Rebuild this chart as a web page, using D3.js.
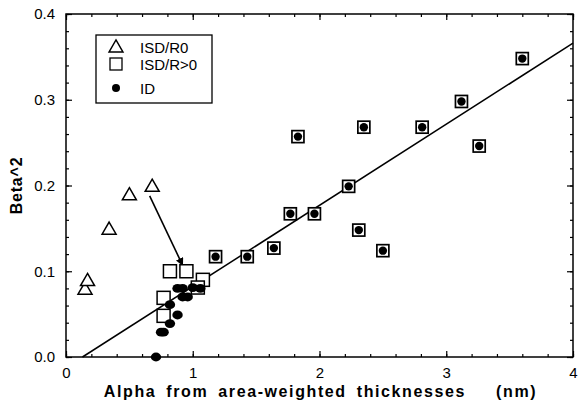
<!DOCTYPE html>
<html>
<head>
  <meta charset="utf-8">
  <script src="https://d3js.org/d3.v7.min.js"></script>
  <style>
    body { margin: 0; background: #fff; }
    text { font-family: "Liberation Sans", Arial, sans-serif; fill: #000; }
  </style>
</head>
<body>
<script>
  // ISD/R0 (open triangles)
  var triX = [0.15, 0.17, 0.34, 0.50, 0.68];
  var triY = [0.078, 0.088, 0.148, 0.188, 0.198];

  // ISD/R>0 open squares in the low cluster
  var sqX = [0.82, 0.95, 1.08, 0.77, 0.77, 1.04];
  var sqY = [0.100, 0.100, 0.090, 0.069, 0.048, 0.081];

  // ID filled dots in the low cluster
  var idX = [0.88, 0.92, 1.00, 1.06, 0.96, 0.92, 0.82, 0.88, 0.82, 0.77, 0.75, 0.71];
  var idY = [0.080, 0.080, 0.081, 0.080, 0.070, 0.070, 0.061, 0.049, 0.039, 0.029, 0.029, 0.000];

  // points where square and dot coincide
  var bothX = [1.18, 1.43, 1.64, 1.77, 1.96, 1.83, 2.23, 2.31, 2.35, 2.50, 2.81, 3.12, 3.26, 3.60];
  var bothY = [0.117, 0.117, 0.127, 0.167, 0.167, 0.257, 0.199, 0.148, 0.268, 0.124, 0.268, 0.298, 0.246, 0.348];

  // fitted line and the arrow
  var fitX = [0.13, 4.0];
  var fitY = [0.0, 0.366];
  var arrowX = [0.66, 0.92];
  var arrowY = [0.188, 0.107];

  var xTicks = [0, 1, 2, 3, 4];
  var yTicks = [0.0, 0.1, 0.2, 0.3, 0.4];
  var legendNames = ["ISD/R0", "ISD/R>0", "ID"];

  var width = 579, height = 407;
  var pL = 66, pR = 573, pT = 14, pB = 357;

  var svg = d3.select("body").append("svg")
      .attr("width", width)
      .attr("height", height);

  var x = d3.scaleLinear().domain([0, 4]).range([pL, pR]);
  var y = d3.scaleLinear().domain([0, 0.4]).range([pB, pT]);

  var minorX = d3.range(0, 4.001, 0.2), minorY = d3.range(0, 0.4001, 0.02);

  function styleAxis(g) {
    g.select(".domain").remove();
    g.selectAll("line").attr("stroke", "#000").attr("stroke-width", 1.2);
    g.selectAll("text").style("font-size", "15px").style("font-family", "Liberation Sans, Arial, sans-serif");
  }

  // minor ticks all sides
  svg.append("g").attr("transform", "translate(0," + pB + ")")
    .call(d3.axisBottom(x).tickValues(minorX).tickSize(-3).tickFormat("")).call(styleAxis);
  svg.append("g").attr("transform", "translate(0," + pT + ")")
    .call(d3.axisTop(x).tickValues(minorX).tickSize(-3).tickFormat("")).call(styleAxis);
  svg.append("g").attr("transform", "translate(" + pL + ",0)")
    .call(d3.axisLeft(y).tickValues(minorY).tickSize(-3).tickFormat("")).call(styleAxis);
  svg.append("g").attr("transform", "translate(" + pR + ",0)")
    .call(d3.axisRight(y).tickValues(minorY).tickSize(-3).tickFormat("")).call(styleAxis);

  // major ticks with labels
  svg.append("g").attr("transform", "translate(0," + pB + ")")
    .call(d3.axisBottom(x).tickValues(xTicks).tickSize(-6).tickPadding(10).tickFormat(d3.format("d"))).call(styleAxis);
  svg.append("g").attr("transform", "translate(0," + pT + ")")
    .call(d3.axisTop(x).tickValues(xTicks).tickSize(-6).tickFormat("")).call(styleAxis);
  svg.append("g").attr("transform", "translate(" + pL + ",0)")
    .call(d3.axisLeft(y).tickValues(yTicks).tickSize(-6).tickPadding(11).tickFormat(d3.format(".1f"))).call(styleAxis);
  svg.append("g").attr("transform", "translate(" + pR + ",0)")
    .call(d3.axisRight(y).tickValues(yTicks).tickSize(-6).tickFormat("")).call(styleAxis);

  // frame
  svg.append("rect")
    .attr("x", pL).attr("y", pT)
    .attr("width", pR - pL).attr("height", pB - pT)
    .attr("fill", "none").attr("stroke", "#000").attr("stroke-width", 1.5);

  // axis titles
  svg.append("text")
    .attr("x", (pL + pR) / 2 + 1).attr("y", 397)
    .attr("text-anchor", "middle")
    .style("font-size", "16px").style("font-weight", "bold")
    .style("letter-spacing", "1.6px").style("word-spacing", "4px")
    .attr("xml:space", "preserve")
    .text("Alpha from area-weighted thicknesses   (nm)");

  svg.append("text")
    .attr("transform", "translate(22," + ((pT + pB) / 2) + ") rotate(-90)")
    .attr("text-anchor", "middle")
    .style("font-size", "16px").style("font-weight", "bold")
    .style("letter-spacing", "0.8px")
    .text("Beta^2");

  // fitted line
  svg.append("line")
    .attr("x1", x(fitX[0])).attr("y1", y(fitY[0]))
    .attr("x2", x(fitX[1])).attr("y2", y(fitY[1]))
    .attr("stroke", "#000").attr("stroke-width", 1.5);

  // arrow
  var defs = svg.append("defs");
  defs.append("marker")
      .attr("id", "head")
      .attr("viewBox", "0 0 10 10")
      .attr("refX", 9).attr("refY", 5)
      .attr("markerWidth", 8).attr("markerHeight", 8)
      .attr("markerUnits", "userSpaceOnUse")
      .attr("orient", "auto")
    .append("path").attr("d", "M0,0 L10,5 L0,10 z").attr("fill", "#000");

  svg.append("line")
    .attr("x1", x(arrowX[0])).attr("y1", y(arrowY[0]))
    .attr("x2", x(arrowX[1])).attr("y2", y(arrowY[1]))
    .attr("stroke", "#000").attr("stroke-width", 1.6)
    .attr("marker-end", "url(#head)");

  var tri = d3.symbol().type(d3.symbolTriangle).size(85);

  // triangles
  svg.append("g").selectAll("path")
    .data(d3.zip(triX, triY))
    .join("path")
      .attr("transform", function(d) { return "translate(" + x(d[0]) + "," + y(d[1]) + ")"; })
      .attr("d", tri)
      .attr("fill", "#fff").attr("stroke", "#000").attr("stroke-width", 1.5);

  // open squares
  svg.append("g").selectAll("rect")
    .data(d3.zip(sqX, sqY))
    .join("rect")
      .attr("x", function(d) { return x(d[0]) - 6.5; })
      .attr("y", function(d) { return y(d[1]) - 6.5; })
      .attr("width", 13).attr("height", 13)
      .attr("fill", "#fff").attr("stroke", "#000").attr("stroke-width", 1.5);

  // ID dots
  svg.append("g").selectAll("ellipse")
    .data(d3.zip(idX, idY))
    .join("ellipse")
      .attr("cx", function(d) { return x(d[0]); })
      .attr("cy", function(d) { return y(d[1]); })
      .attr("rx", 5.2).attr("ry", 4.4)
      .attr("fill", "#000");

  // square + dot
  var both = svg.append("g").selectAll("g")
    .data(d3.zip(bothX, bothY))
    .join("g")
      .attr("transform", function(d) { return "translate(" + x(d[0]) + "," + y(d[1]) + ")"; });
  both.append("rect")
    .attr("x", -6).attr("y", -6).attr("width", 12).attr("height", 12)
    .attr("fill", "#fff").attr("stroke", "#000").attr("stroke-width", 1.7);
  both.append("circle").attr("r", 4.2).attr("fill", "#000");

  // legend
  var lg = svg.append("g");
  lg.append("rect")
    .attr("x", 96).attr("y", 35).attr("width", 116).attr("height", 68)
    .attr("fill", "#fff").attr("stroke", "#000").attr("stroke-width", 1.3);
  var rowY = [47, 64, 88];
  lg.append("path")
    .attr("transform", "translate(116," + (rowY[0] + 1) + ")")
    .attr("d", tri)
    .attr("fill", "#fff").attr("stroke", "#000").attr("stroke-width", 1.4);
  lg.append("rect")
    .attr("x", 110).attr("y", rowY[1] - 6).attr("width", 12).attr("height", 12)
    .attr("fill", "#fff").attr("stroke", "#000").attr("stroke-width", 1.3);
  lg.append("circle").attr("cx", 116).attr("cy", rowY[2]).attr("r", 4).attr("fill", "#000");
  lg.selectAll("text.lab")
    .data(legendNames)
    .join("text")
      .attr("class", "lab")
      .attr("x", 140)
      .attr("y", function(d, i) { return rowY[i] + 5.5; })
      .style("font-size", "15px")
      .text(function(d) { return d; });
</script>
</body>
</html>
